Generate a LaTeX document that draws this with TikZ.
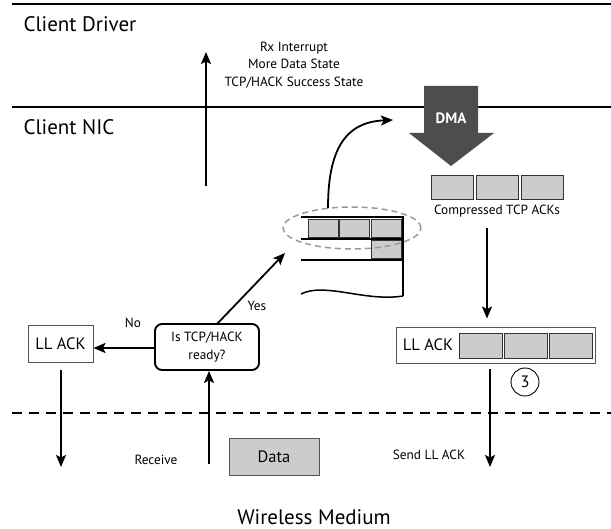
\documentclass[tikz,border=0pt]{standalone}
\usepackage{fontspec}
\setmainfont{PT Sans}
\usetikzlibrary{arrows.meta,shapes.geometric}
\definecolor{boxgray}{HTML}{CCCCCC}
\definecolor{dmagray}{HTML}{4D4D4D}
\definecolor{edgegray}{HTML}{555555}
\definecolor{ellgray}{HTML}{999999}
\begin{document}
\begin{tikzpicture}[x=1pt,y=-1pt,
  arr/.style={line width=1.8pt,-{Stealth[length=12pt,width=10pt,inset=2.5pt]}},
  big/.style={font=\fontsize{21}{25}\selectfont},
  med/.style={font=\fontsize{16.5}{19}\selectfont},
  small/.style={font=\fontsize{13.3}{17.5}\selectfont},
  cell/.style={draw=black!80, line width=0.9pt, fill=boxgray, inner sep=0pt},
  sz/.style 2 args={minimum width=#1pt, minimum height=#2pt},
  sepline/.style={line width=2.6pt},
]
\useasboundingbox (0,0) rectangle (611,529);

% separators
\coordinate (tl) at (12,4);   \coordinate (tr) at (611,4);
\coordinate (ml) at (12,107); \coordinate (mr) at (611,107);
\coordinate (dl) at (12,413); \coordinate (dr) at (611,413);
\draw[sepline] (tl) -- (tr);
\draw[sepline] (ml) -- (mr);
\draw[sepline, dash pattern=on 10pt off 7pt] (dl) -- (dr);

% layer labels
\node[big, anchor=west] (driver) at (20,24) {Client Driver};
\node[big, anchor=west] (nic) at (20,127) {Client NIC};
\node[big] (wm) at (314,517) {Wireless Medium};

% Rx interrupt arrow
\coordinate (rxbot) at (206,186);
\coordinate (rxtop) at (206,52);
\draw[arr] (rxbot) -- (rxtop);
\node[small, align=center] (rxtxt) at (294,65) {Rx Interrupt\\More Data State\\TCP/HACK Success State};

% DMA arrow
\fill[dmagray] (424,86) -- (478,86) -- (478,133) -- (494,133) -- (451,166) -- (409,133) -- (424,133) -- cycle;
\node[font=\fontsize{15}{18}\selectfont\bfseries, text=white] (dma) at (451,118) {DMA};

% compressed ACKs
\node[cell, sz={42}{24}] (cc1) at (452,187) {};
\node[cell, sz={42}{24}] (cc2) at (497,187) {};
\node[cell, sz={42}{24}] (cc3) at (542,187) {};
\node[small] (ctxt) at (497,211) {Compressed TCP ACKs};

% right LL ACK
\node[draw=edgegray, line width=0.9pt, fill=white, sz={199}{36}] (rll) at (495.5,345) {};
\node[med] (rlltxt) at (428,345) {LL ACK};
\node[cell, sz={43}{25}] (rc1) at (480.5,345.5) {};
\node[cell, sz={43}{25}] (rc2) at (525.5,345.5) {};
\node[cell, sz={43}{25}] (rc3) at (570.5,345.5) {};
\coordinate (ca) at (487,228);
\draw[arr, shorten >=8pt] (ca) -- (ca |- rll.north);
\node[draw, line width=0.9pt, circle, minimum size=28pt, inner sep=0pt, med] (three) at (525,382) {3};
\coordinate (sa) at (490,369);
\coordinate (sb) at (490,467);
\draw[arr] (sa) -- (sb);
\node[small] (send) at (429,455) {Send LL ACK};

% decision
\node[draw, line width=1.9pt, rounded corners=7pt, sz={104}{46}, align=center, small, inner sep=0pt] (dec) at (207,347) {Is TCP/HACK\\ready?};
\node[draw=edgegray, line width=0.9pt, sz={65}{37}, med] (lll) at (60.5,343.5) {LL ACK};
\draw[arr] (dec.west |- 0,348) -- (lll.east |- 0,348);
\node[small] (no) at (133,323) {No};
\coordinate (la) at (61,370);
\coordinate (lb) at (61,467);
\draw[arr] (la) -- (lb);
\coordinate (ra) at (209,464);
\draw[arr] (ra) -- (ra |- dec.south);
\node[small] (recv) at (156,460) {Receive};
\node[cell, draw=edgegray, sz={90}{37}, med] (data) at (274,456.5) {Data};

% yes arrow
\coordinate (ya) at (217,324);
\coordinate (yb) at (285,253);
\draw[arr] (ya) -- (yb);
\node[small] (yes) at (257,306) {Yes};

% queue
\node[cell, sz={30}{18}] (q1) at (323,228) {};
\node[cell, sz={30}{18}] (q2) at (354,228) {};
\node[cell, sz={30}{18}] (q3) at (386,228) {};
\node[cell, sz={30}{18}] (q4) at (386,249) {};
\draw[line width=1.3pt] (301,217) -- (403,217);
\draw[line width=2.5pt] (301,239) -- (403,239);
\draw[line width=1.5pt] (301,260) -- (403,260);
\draw[line width=1.5pt] (403,216.5) -- (403,296);
\draw[line width=1.5pt] (301,294) .. controls (325,282) and (365,302) .. (403,296);
\node[draw=ellgray, line width=1.5pt, dash pattern=on 6pt off 4pt, ellipse, sz={138}{42}] (ell) at (352,228) {};

% curved arrow to DMA
\coordinate (cv1) at (328,208);
\coordinate (cv2) at (393,120);
\draw[arr] (cv1) .. controls (328,150) and (345,122) .. (cv2);
\end{tikzpicture}
\end{document}
